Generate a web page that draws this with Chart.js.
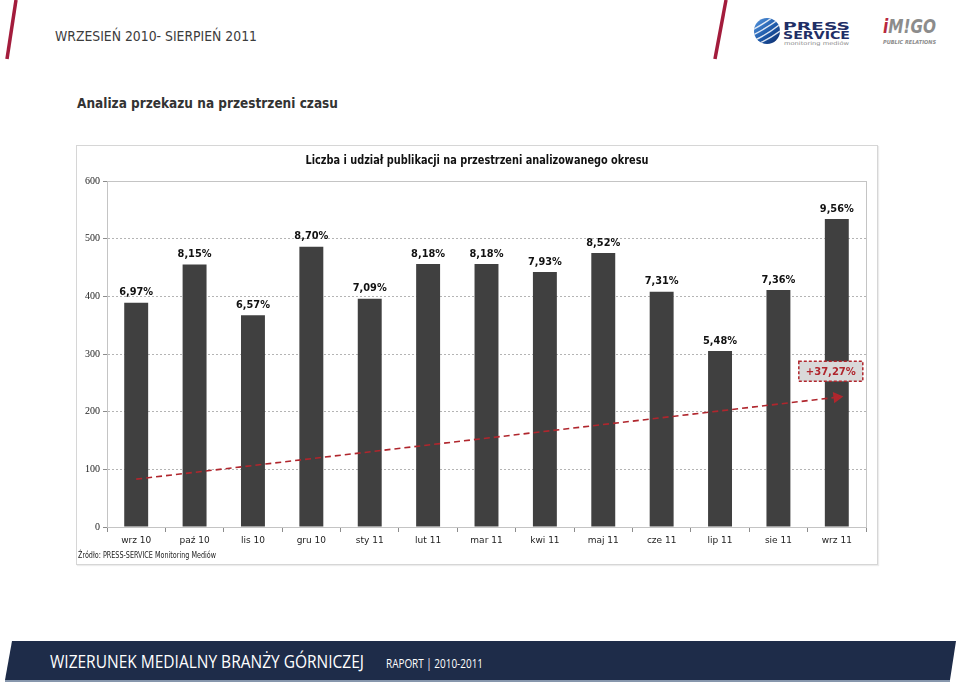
<!DOCTYPE html>
<html>
<head>
<meta charset="utf-8">
<script src="https://cdn.jsdelivr.net/npm/chart.js@4.4.1/dist/chart.umd.min.js"></script>
<style>
  body { margin: 0; width: 960px; height: 683px; background: #fff; position: relative; overflow: hidden; }
  #page { position: absolute; left: 0; top: 0; }
  #frame { position: absolute; left: 76px; top: 145px; width: 802px; height: 420px; box-sizing: border-box; border: 1px solid #d6d6d6; box-shadow: 1px 1px 1px #ececec; }
  #chart { position: absolute; left: 0; top: 0; }
</style>
</head>
<body>
<svg id="page" width="960" height="683">
  <defs>
    <linearGradient id="ball" x1="0" y1="0" x2="1" y2="1">
      <stop offset="0" stop-color="#5a9ae0"/>
      <stop offset="0.55" stop-color="#1d58a8"/>
      <stop offset="1" stop-color="#0d2a66"/>
    </linearGradient>
    <clipPath id="ballClip"><circle cx="767" cy="31" r="13"/></clipPath>
  </defs>
  <!-- header -->
  <line x1="16" y1="0" x2="7" y2="59" stroke="#a31c3c" stroke-width="3.5"/>
  <text x="55" y="41" font-family="DejaVu Sans" font-size="14" fill="#3c3c3c" textLength="202" lengthAdjust="spacingAndGlyphs">WRZESIEŃ 2010- SIERPIEŃ 2011</text>
  <line x1="726" y1="0" x2="715" y2="59" stroke="#a31c3c" stroke-width="3.5"/>
  <circle cx="767" cy="31" r="13" fill="url(#ball)"/>
  <g clip-path="url(#ballClip)" stroke="#fff" stroke-width="1.4" fill="none" opacity="0.85">
    <path d="M752,30 Q764,24 780,12"/>
    <path d="M753,35 Q767,28 782,17"/>
    <path d="M755,40 Q770,33 783,22"/>
    <path d="M758,44 Q773,37 784,28"/>
  </g>
  <text x="783" y="30" font-family="DejaVu Sans" font-weight="bold" font-size="10" fill="#1f2f66" textLength="67" lengthAdjust="spacingAndGlyphs">PRESS</text>
  <text x="783" y="39" font-family="DejaVu Sans" font-weight="bold" font-size="10" fill="#1f2f66" textLength="67" lengthAdjust="spacingAndGlyphs">SERVICE</text>
  <text x="784" y="45" font-family="DejaVu Sans" font-size="5" fill="#8a8a8a" textLength="65" lengthAdjust="spacingAndGlyphs">monitoring mediów</text>
  <text x="883" y="33" font-family="DejaVu Sans" font-weight="bold" font-style="italic" font-size="20" fill="#8c8c8c" textLength="53" lengthAdjust="spacingAndGlyphs"><tspan fill="#b8283e">i</tspan>M!GO</text>
  <text x="883" y="44" font-family="DejaVu Sans" font-weight="bold" font-style="italic" font-size="5.5" fill="#8c8c8c" textLength="53" lengthAdjust="spacingAndGlyphs">PUBLIC RELATIONS</text>
  <!-- section title -->
  <text x="77" y="108" font-family="DejaVu Sans" font-weight="bold" font-size="14" fill="#333" textLength="261" lengthAdjust="spacingAndGlyphs">Analiza przekazu na przestrzeni czasu</text>
  <!-- footer -->
  <polygon points="12,641 956,641 950,680 5,680" fill="#1e2c49"/>
  <line x1="5" y1="681" x2="950" y2="681" stroke="#8797ad" stroke-width="2"/>
  <text x="50" y="668" font-family="Open Sans" font-size="18" fill="#fff" textLength="314" lengthAdjust="spacingAndGlyphs">WIZERUNEK MEDIALNY BRANŻY GÓRNICZEJ</text>
  <text x="386" y="668" font-family="Open Sans" font-size="12" fill="#fff" textLength="97" lengthAdjust="spacingAndGlyphs">RAPORT | 2010-2011</text>
</svg>

<div id="frame"><canvas id="chart" width="800" height="418"></canvas></div>

<script>
// Chart data
const months = ["wrz 10", "paź 10", "lis 10", "gru 10", "sty 11", "lut 11", "mar 11", "kwi 11", "maj 11", "cze 11", "lip 11", "sie 11", "wrz 11"]
const counts = [389, 455, 367, 486, 396, 456, 456, 442, 475, 408, 305, 411, 534]
const shares = ["6,97%", "8,15%", "6,57%", "8,70%", "7,09%", "8,18%", "8,18%", "7,93%", "8,52%", "7,31%", "5,48%", "7,36%", "9,56%"]
// trend line end points
const trend = [83, null, null, null, null, null, null, null, null, null, null, null, 225]
const yMin = 0
const yMax = 600
const yStep = 100
const chartTitle = "Liczba i udział publikacji na przestrzeni analizowanego okresu"
const sourceNote = "Źródło: PRESS-SERVICE Monitoring Mediów"
const growthLabel = "+37,27%"
const growthAt = 270

const trendRed = "#b0262d"

// Title, source note, plot frame, value labels and the growth box
const decorations = {
  id: "decorations",
  beforeDatasetsDraw(chart) {
    const { ctx, chartArea } = chart
    ctx.save()
    ctx.strokeStyle = "#c4c4c4"
    ctx.lineWidth = 1
    ctx.strokeRect(chartArea.left + 0.5, chartArea.top + 0.5, chartArea.right - chartArea.left, chartArea.bottom - chartArea.top)
    ctx.restore()
  },
  afterDatasetsDraw(chart) {
    const { ctx, scales } = chart
    ctx.save()

    // chart title
    ctx.fillStyle = "#111"
    ctx.font = "bold 12px 'DejaVu Sans'"
    ctx.textAlign = "center"
    ctx.textBaseline = "middle"
    ctx.fillText(chartTitle, 400, 15, 343)

    // source note
    ctx.fillStyle = "#222"
    ctx.font = "8px 'DejaVu Sans'"
    ctx.textAlign = "left"
    ctx.fillText(sourceNote, 1, 410, 138)

    // value labels
    const bars = chart.getDatasetMeta(1)
    ctx.font = "bold 10px 'DejaVu Sans'"
    ctx.textAlign = "center"
    ctx.textBaseline = "bottom"
    ctx.fillStyle = "#111"
    bars.data.forEach((bar, i) => {
      ctx.fillText(shares[i], bar.x, bar.y - 5, 34)
    })

    // growth box
    const cx = scales.x.getPixelForValue(months.length - 1) - 6
    const cy = scales.y.getPixelForValue(growthAt)
    const w = 64
    const h = 20
    ctx.fillStyle = "#d9d9d9"
    ctx.fillRect(cx - w / 2, cy - h / 2, w, h)
    ctx.setLineDash([3, 2])
    ctx.lineWidth = 1.5
    ctx.strokeStyle = trendRed
    ctx.strokeRect(cx - w / 2, cy - h / 2, w, h)
    ctx.setLineDash([])
    ctx.fillStyle = trendRed
    ctx.font = "bold 10px 'DejaVu Sans'"
    ctx.textBaseline = "middle"
    ctx.fillText(growthLabel, cx, cy + 1, 52)

    ctx.restore()
  },
}

new Chart(document.getElementById("chart"), {
  type: "bar",
  data: {
    labels: months,
    datasets: [
      {
        type: "line",
        data: trend,
        spanGaps: true,
        borderColor: trendRed,
        borderWidth: 1.6,
        borderDash: [6, 4],
        pointStyle: "triangle",
        rotation: 83,
        pointRadius: (c) => (c.dataIndex === months.length - 1 ? 5 : 0),
        pointBackgroundColor: trendRed,
        pointBorderColor: trendRed,
      },
      {
        data: counts,
        backgroundColor: "#404040",
        borderColor: "#555",
        borderWidth: 0,
        categoryPercentage: 1,
        barPercentage: 0.41,
      },
    ],
  },
  options: {
    responsive: false,
    animation: false,
    layout: {
      padding: { top: 35, right: 11, left: 0, bottom: 0 },
    },
    plugins: {
      legend: { display: false },
      tooltip: { enabled: false },
      title: { display: false },
    },
    scales: {
      x: {
        afterFit: (scale) => {
          scale.height = 37
        },
        grid: {
          drawOnChartArea: false,
          drawTicks: true,
          tickLength: 5,
          tickColor: "#8c8c8c",
          offset: true,
        },
        border: { color: "#8c8c8c", width: 1 },
        ticks: {
          color: "#222",
          font: { family: "'DejaVu Sans'", size: 9 },
          padding: 3,
          maxRotation: 0,
          autoSkip: false,
        },
      },
      y: {
        min: yMin,
        max: yMax,
        afterFit: (scale) => {
          scale.width = 30
        },
        grid: {
          color: "#b4b4b4",
          tickColor: "#8c8c8c",
          tickLength: 4,
          tickBorderDash: [],
        },
        border: { color: "#8c8c8c", width: 1, dash: [2, 2] },
        ticks: {
          stepSize: yStep,
          color: "#222",
          font: { family: "'Liberation Serif'", size: 10 },
          padding: 3,
        },
      },
    },
  },
  plugins: [decorations],
})
</script>
</body>
</html>
